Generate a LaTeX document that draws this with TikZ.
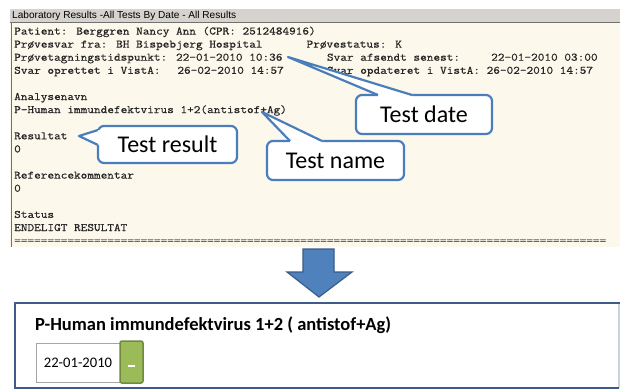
\documentclass[tikz,border=0pt]{standalone}
\usepackage{fontspec}
\setmainfont{Carlito}
\newfontfamily\monof[FakeStretch=1.14,FakeBold=0.6]{Latin Modern Mono}
\newfontfamily\uisans{Liberation Sans}
\usetikzlibrary{calc}
\definecolor{panelbg}{HTML}{FDF8EC}
\definecolor{barbg}{HTML}{D6D3CE}
\definecolor{barline}{HTML}{707070}
\definecolor{callB}{HTML}{4A7EBB}
\definecolor{arrowF}{HTML}{4F81BD}
\definecolor{arrowD}{HTML}{385D8A}
\definecolor{boxB}{HTML}{3D5C8A}
\definecolor{boxR}{HTML}{C9D2DD}
\definecolor{btnG}{HTML}{9BBB59}
\definecolor{btnD}{HTML}{71893F}
\begin{document}
\begin{tikzpicture}[x=1pt,y=-1pt,
  mono/.style={anchor=base west, inner sep=0pt, font=\monof\fontsize{11.33}{13}\selectfont, text=black!85},
  callout/.style={draw=callB, line width=2.2pt, fill=white, rounded corners=6pt, inner sep=0pt,
    font=\fontsize{24}{28}\selectfont, text=black},
  callline/.style={draw=callB, line width=2.2pt, line join=round},
]
\useasboundingbox (0,0) rectangle (620,389);
\fill[white] (0,0) rectangle (620,389);

% screenshot panel
\fill[barbg] (10,9) rectangle (620,22);
\fill[panelbg] (10,22) rectangle (620,247);
\draw[barline, line width=1.5pt] (10,22.5) -- (620,22.5);
\draw[barline, line width=1.5pt] (11.5,22) -- (11.5,247);
\node[anchor=west, inner sep=0pt, font=\uisans\fontsize{10.1}{11}\selectfont, text=black] (title) at (12,16) {Laboratory Results -All Tests By Date - All Results};

\node[mono] (l1) at (14,34.5) {Patient: Berggren Nancy Ann (CPR: 2512484916)};
\node[mono] (l2a) at (14,47.6) {Prøvesvar fra: BH Bispebjerg Hospital};
\node[mono] (l2b) at (306.4,47.6) {Prøvestatus: K};
\node[mono] (l3a) at (14,60.7) {Prøvetagningstidspunkt: 22-01-2010 10:36};
\node[mono] (l3b) at (326.8,60.7) {Svar afsendt senest:};
\node[mono] (l3c) at (491,60.7) {22-01-2010 03:00};
\node[mono] (l4a) at (14,73.8) {Svar oprettet i VistA:};
\node[mono] (l4b) at (177.2,73.8) {26-02-2010 14:57};
\node[mono] (l4c) at (326.8,73.8) {Svar opdateret i VistA: 26-02-2010 14:57};
\node[mono] (l6) at (14,100.0) {Analysenavn};
\node[mono] (l7) at (14,113.1) {P-Human immundefektvirus 1+2(antistof+Ag)};
\node[mono] (l9) at (14,139.3) {Resultat};
\node[mono] (l10) at (14,152.4) {0};
\node[mono] (l12) at (14,178.6) {Referencekommentar};
\node[mono] (l13) at (14,191.7) {0};
\node[mono] (l15) at (14,217.9) {Status};
\node[mono] (l16) at (14,231.0) {ENDELIGT RESULTAT};
\node[mono, text=black!60] (l17) at (14,244.1) {=========================================================================================};

% callouts
\node[callout, minimum width=136pt, minimum height=39pt] (dateC) at (424,114.5) {Test date};
\coordinate (dateTip) at (288,57);
\fill[white] (dateTip) -- ($(dateC.north)+(-46,0)$) -- ($(dateC.north)+(-46,3.5)$) -- ($(dateC.north)+(-12,3.5)$) -- ($(dateC.north)+(-12,0)$) -- cycle;
\draw[callline] ($(dateC.north)+(-46,1.1)$) -- (dateTip) -- ($(dateC.north)+(-12,1.1)$);

\node[callout, minimum width=137pt, minimum height=39pt] (nameC) at (335.5,160.5) {Test name};
\coordinate (nameTip) at (262,112);
\fill[white] (nameTip) -- ($(nameC.north)+(-45.5,0)$) -- ($(nameC.north)+(-45.5,3.5)$) -- ($(nameC.north)+(-13.5,3.5)$) -- ($(nameC.north)+(-13.5,0)$) -- cycle;
\draw[callline] ($(nameC.north)+(-45.5,1.1)$) -- (nameTip) -- ($(nameC.north)+(-13.5,1.1)$);

\node[callout, minimum width=139pt, minimum height=37pt] (resC) at (167.5,144.5) {Test result};
\coordinate (resTip) at (79,136);
\fill[white] (resTip) -- ($(resC.west)+(0,-14.5)$) -- ($(resC.west)+(3.5,-14.5)$) -- ($(resC.west)+(3.5,0.5)$) -- ($(resC.west)+(0,0.5)$) -- cycle;
\draw[callline] ($(resC.west)+(1.1,-14.5)$) -- (resTip) -- ($(resC.west)+(1.1,0.5)$);

% down arrow
\draw[fill=arrowF, draw=arrowD, line width=1.2pt, line join=miter]
  (303,249) -- (334,249) -- (334,272) -- (352,272) -- (319,297) -- (287,272) -- (303,272) -- cycle;

% bottom box
\fill[white] (15,303) rectangle (619,388);
\draw[boxR, line width=1.5pt] (619,303) -- (619,388);
\draw[boxB, line width=2pt] (619,388) -- (15,388) -- (15,303);
\draw[boxB, line width=2.8pt] (14,303) -- (620,303);
\node[anchor=west, inner sep=0pt, font=\bfseries\fontsize{18.5}{21}\selectfont, text=black] (btitle) at (35,325) {P-Human immundefektvirus 1+2 ( antistof+Ag)};
\node[draw=black!35, fill=white, line width=0.8pt, minimum width=84pt, minimum height=39pt, inner sep=0pt,
  font=\fontsize{14.6}{17}\selectfont, text=black] (datebox) at (78,362.5) {22-01-2010};
\node[fill=btnG, draw=btnD, line width=1.5pt, rounded corners=2pt, minimum width=23pt, minimum height=42pt, inner sep=0pt] (btn) at (131.5,362) {};
\fill[white] (128,364.5) rectangle (135,367);
\end{tikzpicture}
\end{document}
